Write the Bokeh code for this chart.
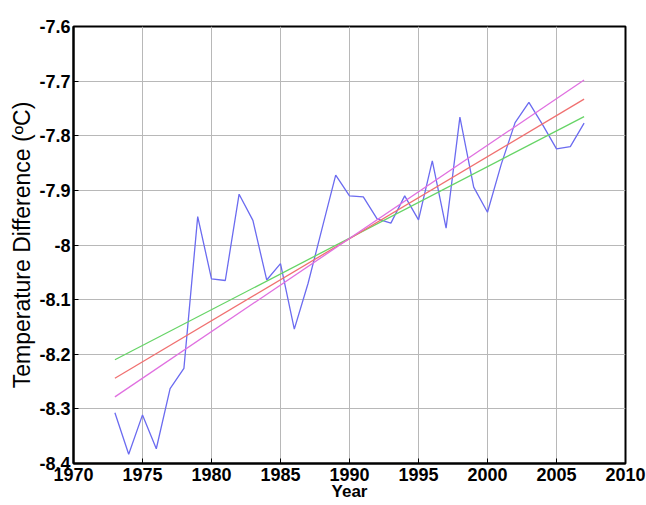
from bokeh.plotting import figure
from bokeh.models import Range1d, FixedTicker
from bokeh.embed import file_html
from bokeh.resources import INLINE

# datos
years = list(range(1973, 2008))
temp_diff = [-8.307, -8.383, -8.311, -8.373, -8.263, -8.226, -7.948, -8.062,
             -8.065, -7.907, -7.955, -8.064, -8.034, -8.154, -8.070, -7.971,
             -7.872, -7.910, -7.912, -7.952, -7.960, -7.910, -7.954, -7.846,
             -7.969, -7.766, -7.894, -7.940, -7.852, -7.776, -7.739, -7.780,
             -7.824, -7.820, -7.777]

# lineas de tendencia (extremos)
trend_years = [1973, 2007]
trend_green = [-8.210, -7.765]
trend_red = [-8.244, -7.733]
trend_magenta = [-8.278, -7.698]

x_ticks = [1970, 1975, 1980, 1985, 1990, 1995, 2000, 2005, 2010]
y_ticks = [-8.4, -8.3, -8.2, -8.1, -8.0, -7.9, -7.8, -7.7, -7.6]
y_tick_labels = ["-8.4", "-8.3", "-8.2", "-8.1", "-8", "-7.9", "-7.8", "-7.7", "-7.6"]

p = figure(width=646, height=505, output_backend="svg", toolbar_location=None,
           x_range=Range1d(1970, 2010), y_range=Range1d(-8.4, -7.6),
           x_axis_label="Year", y_axis_label="Temperature Difference (\u00baC)",
           min_border_left=73, min_border_right=21, min_border_top=26,
           min_border_bottom=42)

p.outline_line_color = "black"
p.outline_line_width = 2
p.background_fill_color = "white"
p.border_fill_color = "white"

p.xgrid.ticker = FixedTicker(ticks=x_ticks)
p.ygrid.ticker = FixedTicker(ticks=y_ticks)
p.grid.grid_line_color = "#b8b8b8"
p.grid.grid_line_width = 1

p.xaxis.ticker = FixedTicker(ticks=x_ticks)
p.yaxis.ticker = FixedTicker(ticks=y_ticks)
p.yaxis.major_label_overrides = dict(zip(y_ticks, y_tick_labels))

for ax in p.axis:
    ax.axis_line_color = "black"
    ax.axis_line_width = 2
    ax.major_tick_in = 5
    ax.major_tick_out = 0
    ax.minor_tick_line_color = None
    ax.major_label_text_font = "Liberation Sans"
    ax.major_label_text_font_style = "bold"
    ax.major_label_text_font_size = "18px"
    ax.major_label_text_color = "black"
    ax.axis_label_text_font = "Liberation Sans"
    ax.axis_label_text_color = "black"

p.xaxis.major_label_standoff = 4
p.xaxis.axis_label_standoff = -2
p.xaxis.axis_label_text_font_style = "bold"
p.xaxis.axis_label_text_font_size = "17px"
p.yaxis.major_label_standoff = 3
p.yaxis.axis_label_standoff = 1
p.yaxis.axis_label_text_font_style = "normal"
p.yaxis.axis_label_text_font_size = "23px"

p.line(years, temp_diff, line_color="#6b6bf0", line_width=1.3)
p.line(trend_years, trend_green, line_color="#66d466", line_width=1.3)
p.line(trend_years, trend_red, line_color="#f07070", line_width=1.3)
p.line(trend_years, trend_magenta, line_color="#e070e0", line_width=1.3)

open("out.html", "w").write(file_html(p, INLINE))
